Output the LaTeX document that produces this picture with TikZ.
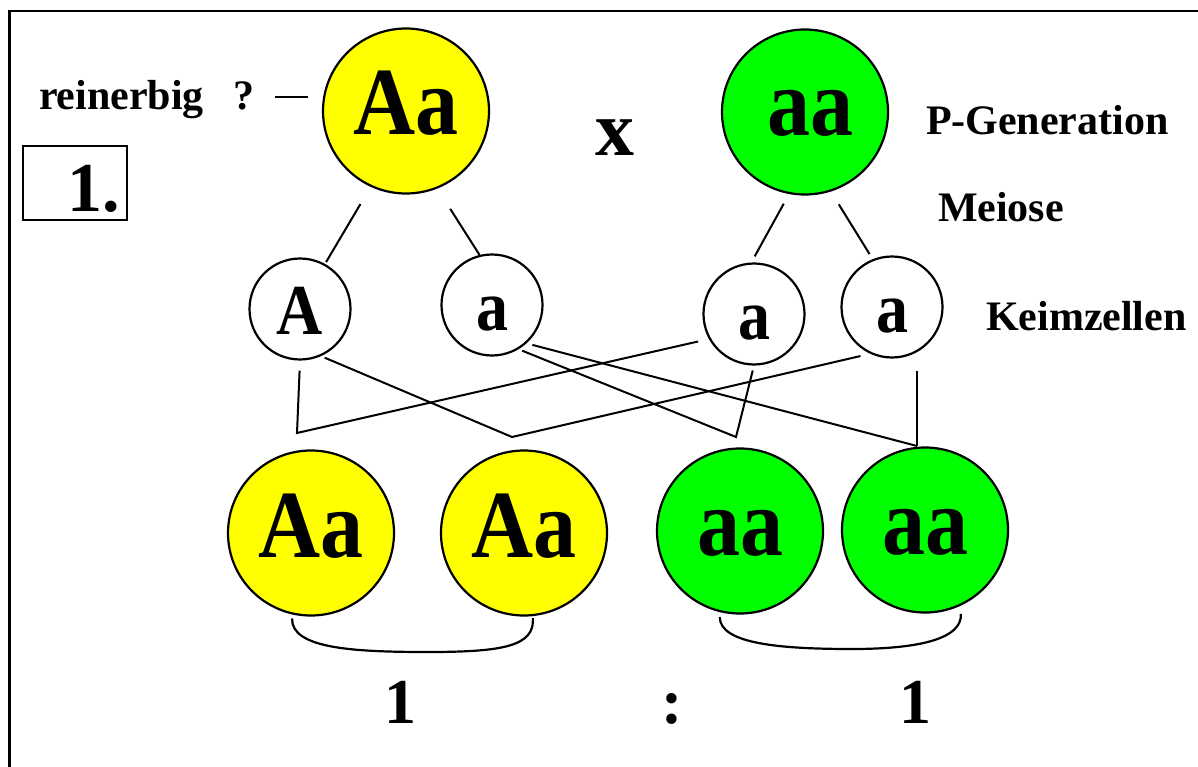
\documentclass[tikz,border=0pt]{standalone}
\usepackage{fontspec}
\setmainfont{Liberation Serif}
\usetikzlibrary{shapes.geometric, calc}
\definecolor{GelbP}{RGB}{255,255,0}
\definecolor{GruenP}{RGB}{0,255,0}
\newcommand{\hoch}[1]{\scalebox{1}[1.12]{#1}}

\begin{document}
\begin{tikzpicture}[x=1pt, y=-1pt, line width=2pt,
    geno/.style={ellipse, draw, line width=2.2pt, inner sep=0pt, minimum width=166pt, minimum height=165pt,
      font=\fontsize{86}{86}\selectfont\bfseries, text height=62pt, text depth=14pt},
    gamet/.style={ellipse, draw, line width=2.2pt, inner sep=0pt, minimum width=101pt, minimum height=101pt,
      font=\fontsize{64}{64}\selectfont\bfseries, text height=50pt, text depth=0pt},
    lbl/.style={anchor=base west, inner sep=0pt, font=\fontsize{42}{42}\selectfont\bfseries},
    gross/.style={anchor=base, inner sep=0pt, font=\fontsize{64}{64}\selectfont\bfseries}]
  \useasboundingbox (0,0) rectangle (1198,767);
  \draw[line width=2.6pt] (9.5,767) -- (9.5,11) -- (1198,11);

  \node[geno, fill=GelbP] (P1) at (406,111) {\hoch{Aa}};
  \node[geno, fill=GruenP] (P2) at (805,112) {\hspace*{10pt}\hoch{aa}};
  \node[gross, font=\fontsize{78}{78}\selectfont\bfseries] (kreuz) at (615,156) {x};

  \node[lbl] (rq) at (38,110) {reinerbig\hspace{30pt}?};
  \draw[line width=2.4pt] ($(rq.east -| P1.west)+(-47,-3)$) -- ($(rq.east -| P1.west)+(-14,-3)$);
  \node[draw, line width=2pt, minimum width=104pt, minimum height=74pt, text width=90pt, align=right,
    inner xsep=7pt, inner ysep=0pt, text height=58pt, text depth=0pt,
    font=\fontsize{70}{70}\selectfont\bfseries] (nr) at (75,183) {1.};

  \node[lbl] (pgen) at (925,135) {P-Generation};
  \node[lbl] (meio) at (937,222) {Meiose};
  \node[lbl] (keim) at (985,330) {Keimzellen};

  \node[gamet] (gA) at (300,309) {\hoch{A}};
  \node[gamet] (ga1) at (492,305) {\hoch{a}};
  \node[gamet] (ga2) at (754,314) {\hoch{a}};
  \node[gamet] (ga3) at (892,307) {\hoch{a}};

  \draw[shorten <=20pt, shorten >=2pt] (P1.245) -- (gA.61);
  \draw[shorten <=24pt] (P1.292) -- (ga1.104);
  \draw[shorten <=11pt, shorten >=7pt] (P2.259) -- (ga2.93);
  \draw[shorten <=15pt, shorten >=6pt] (P2.288) -- (ga3.112);

  \coordinate (k1) at (297,433);
  \coordinate (k2) at (512,437);
  \coordinate (k3) at (736,437);
  \coordinate (k4) at (917,446);
  \draw[shorten <=10pt, shorten >=11pt] (gA.south) -- (k1) -- (ga2.209);
  \draw[shorten <=4pt, shorten >=10pt] (gA.294) -- (k2) -- (ga3.245);
  \draw[shorten <=4pt, shorten >=5pt] (ga1.301) -- (k3) -- (ga2.south);
  \draw[shorten <=6pt] (ga1.312) -- (k4);
  \draw[shorten >=12pt] (k4) -- (k4 |- ga3.south);

  \node[geno, fill=GelbP] (F1) at (311,533) {\hoch{Aa}};
  \node[geno, fill=GelbP] (F2) at (524,533) {\hoch{Aa}};
  \node[geno, fill=GruenP] (F3) at (740,531) {\hoch{aa}};
  \node[geno, fill=GruenP] (F4) at (925,530) {\hoch{aa}};

  \coordinate (b1) at (428,652);
  \coordinate (b2) at (852,649);
  \draw[line width=2.2pt, shorten <=4pt, shorten >=2pt] (F1.257) .. controls +(-1,34) and +(-75,0) .. (b1)
    .. controls +(75,0) and +(2,30) .. (F2.276);
  \draw[line width=2.2pt, shorten <=5pt, shorten >=8pt] (F3.256) .. controls +(0,32) and +(-70,0) .. (b2)
    .. controls +(70,0) and +(2,32) .. (F4.295);

  \node[gross] (v1) at (400,723) {1};
  \node[gross] (vd) at (672,723) {:};
  \node[gross] (v2) at (915,723) {1};
\end{tikzpicture}
\end{document}
